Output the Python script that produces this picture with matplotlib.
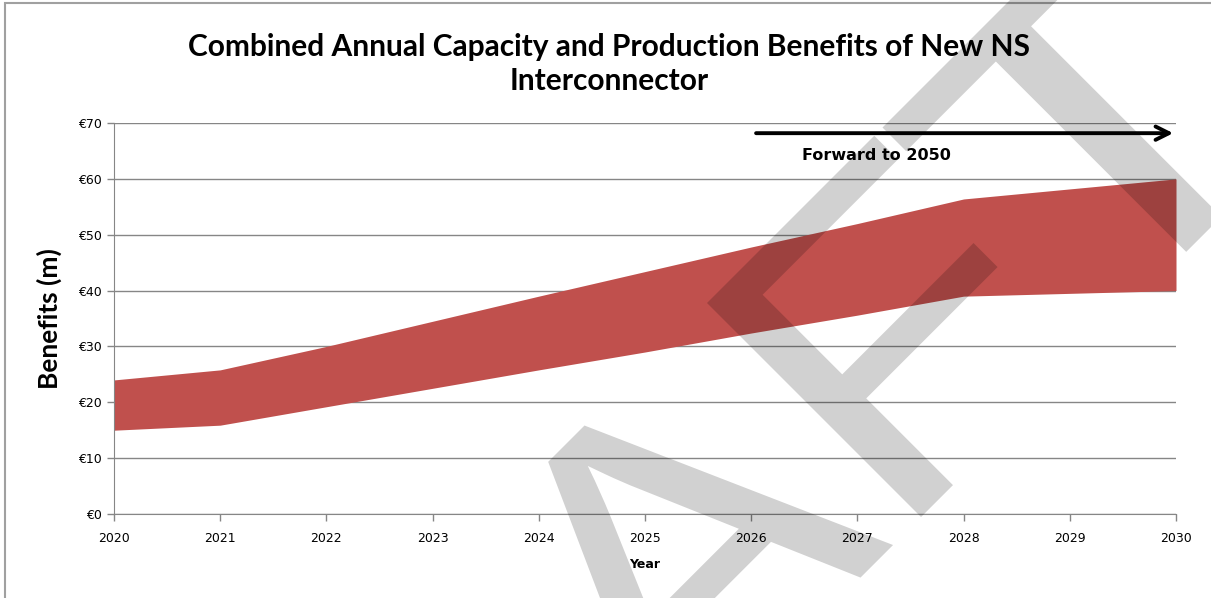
import matplotlib.pyplot as plt
from matplotlib.patches import Rectangle, PathPatch
from matplotlib.path import Path
from matplotlib.textpath import TextPath
from matplotlib.font_manager import FontProperties
from matplotlib.transforms import Affine2D

years = [2020, 2021, 2022, 2023, 2024, 2025, 2026, 2027, 2028, 2029, 2030]
low = [15.0, 15.9, 19.2, 22.5, 25.8, 29.0, 32.4, 35.6, 39.0, 39.5, 40.0]
high = [24.0, 25.8, 30.0, 34.5, 39.0, 43.4, 47.8, 52.0, 56.4, 58.2, 60.0]
yticks = [0, 10, 20, 30, 40, 50, 60, 70]
ytick_labels = ['€' + str(v) for v in yticks]

plt.rcParams['font.family'] = ['DejaVu Sans']

W, H = 1211, 598
fig = plt.figure(figsize=(W / 100, H / 100), dpi=100)
ax = fig.add_axes([0.0941, 0.1405, 0.8770, 0.6538])

ax.fill_between(years, low, high, color='#C0504D', lw=0, zorder=2)

ax.set_xlim(2020, 2030)
ax.set_ylim(0, 70)
ax.set_xticks(years)
ax.set_xticklabels([str(y) for y in years], fontsize=9)
ax.set_yticks(yticks)
ax.set_yticklabels(ytick_labels, fontsize=9)
ax.grid(axis='y', color='#868686', lw=1, zorder=1)
for s in ['top', 'right']:
    ax.spines[s].set_visible(False)
for s in ['left', 'bottom']:
    ax.spines[s].set_color('#868686')
ax.tick_params(colors='#868686', labelcolor='black', length=5, width=1)
ax.tick_params(axis='x', pad=8)

ax.set_ylabel('Benefits (m)', fontsize=19, fontweight='bold', labelpad=12,
              family=['Lato', 'DejaVu Sans'])
ax.set_xlabel('Year', fontsize=9, fontweight='bold', labelpad=9)

fig.text(0.503, 0.893, 'Combined Annual Capacity and Production Benefits of New NS\nInterconnector',
         ha='center', va='center', fontsize=21.5, fontweight='bold', linespacing=1.3,
         family=['Lato', 'DejaVu Sans'])

# arrow "forward to 2050"
ax.annotate('', xy=(1.0, 0.974), xytext=(0.602, 0.974), xycoords='axes fraction',
            arrowprops=dict(arrowstyle='->', lw=2.8, color='black', mutation_scale=24))
ax.text(0.718, 0.917, 'Forward to 2050', transform=ax.transAxes, ha='center', va='center',
        fontsize=11.5, fontweight='bold')

# frame round the chart
fig.patches.append(Rectangle((0.004, -0.1), 1.1, 1.095, transform=fig.transFigure,
                             fill=False, ec='#a0a0a0', lw=1.5))

# DRAFT watermark, letters laid along a 45 degree cap line through the F corner
fp = FontProperties(family='Liberation Sans')
em = 440
corner = (707, H - 303)


def glyph(ch):
    return TextPath((0, 0), ch, size=em, prop=fp)


def real_verts(p):
    return p.vertices[p.codes != Path.CLOSEPOLY]


cap = glyph('F').get_extents().y1


def put(p, anchor_x, u, sx):
    tr = (Affine2D().translate(-anchor_x, -cap).scale(sx, 1).translate(u, 0)
          .rotate_deg(45).translate(*corner))
    fig.add_artist(PathPatch(p, transform=tr, fc='black', ec='none', alpha=0.18, zorder=10))


sx = 1.1
u_a = -200
pa, pf, pt = glyph('A'), glyph('F'), glyph('T')
va, vf, vt = real_verts(pa), real_verts(pf), real_verts(pt)
a_mid = (va[:, 0].min() + va[:, 0].max()) / 2
put(pf, vf[:, 0].min(), 0, sx)
put(pa, a_mid, u_a, sx)
put(pt, vt[vt[:, 1] < 0.5 * cap][:, 0].min(), 375, 1.22)
# R and D before the A, with the font's own spacing
u_a0 = u_a - a_mid * sx
adv_r = real_verts(TextPath((0, 0), 'RA', size=em, prop=fp))[:, 0].max() - va[:, 0].max()
adv_d = (real_verts(TextPath((0, 0), 'DR', size=em, prop=fp))[:, 0].max()
         - real_verts(glyph('R'))[:, 0].max())
put(glyph('R'), 0, u_a0 - adv_r * sx, sx)
put(glyph('D'), 0, u_a0 - (adv_r + adv_d) * sx, sx)

fig.savefig('out.png', dpi=100)
